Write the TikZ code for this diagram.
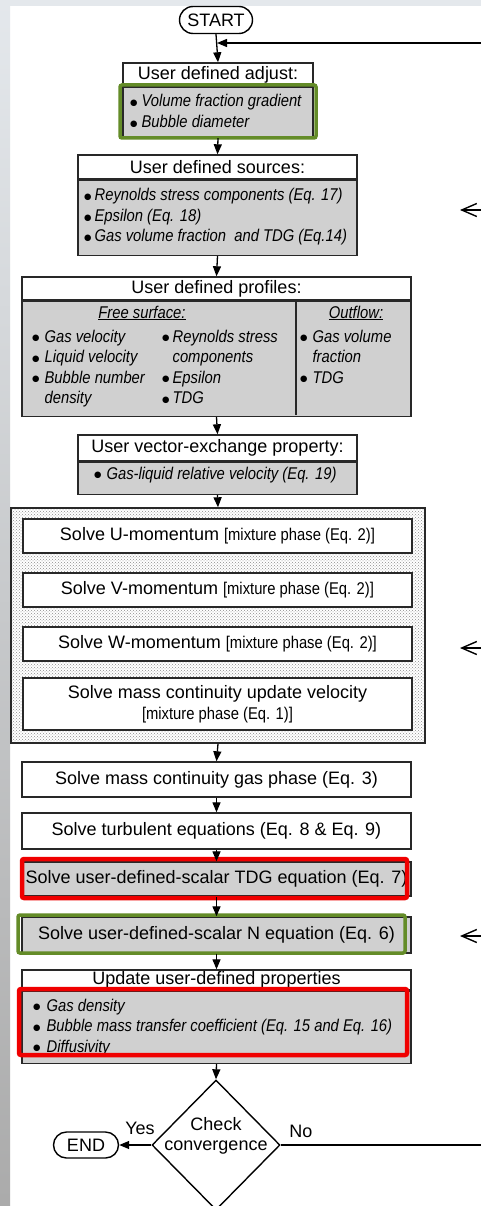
\documentclass[tikz,border=0pt]{standalone}
\usepackage{fontspec}
\setmainfont{Liberation Sans}
\newfontfamily\narrowfont[FakeStretch=0.87]{Liberation Sans}
\newfontfamily\symfont{DejaVu Sans}
\usetikzlibrary{arrows.meta,shapes.geometric,shapes.misc,patterns}

\definecolor{boxgray}{RGB}{208,208,208}
\definecolor{hlgreen}{RGB}{100,140,40}
\definecolor{hlred}{RGB}{240,0,0}
\definecolor{edgegray}{RGB}{40,40,40}
\definecolor{stripgray}{RGB}{228,232,236}
\newcommand{\bul}{\raisebox{1.2pt}{\symfont\fontsize{8.5}{8.5}\selectfont ●}}

\begin{document}
\begin{tikzpicture}[x=1pt,y=-1pt,
    every node/.style={inner sep=0pt},
    txt/.style={font=\fontsize{18}{20.5}\selectfont},
    itm/.style={font=\narrowfont\itshape\fontsize{17}{20.5}\selectfont, anchor=base west},
    titlebox/.style={draw=edgegray, line width=1.4pt, fill=white, txt},
    bodybox/.style={draw=edgegray, line width=1.4pt, fill=boxgray},
    solvebox/.style={draw=edgegray, line width=1.4pt, fill=white, minimum width=389pt, txt},
    term/.style={rounded rectangle, draw=black, line width=1.4pt, txt},
    flow/.style={line width=1.3pt, -{Triangle[length=10pt,width=8pt]}},
    hint/.style={line width=1.4pt, -{Straight Barb[length=15pt,width=13pt]}},
    greenhl/.style={draw=hlgreen, line width=3.5pt, rounded corners=2pt},
    redhl/.style={draw=hlred, line width=4.5pt, rounded corners=2pt}]
    % page and slide border
    \useasboundingbox (0,0) rectangle (481,1206);
    \fill[white] (0,0) rectangle (481,1206);
    \shade[top color=stripgray, bottom color=black!33] (0,0) rectangle (10,1206);
    \fill[stripgray] (10,0) rectangle (481,6);

    \node[term, minimum width=73pt, minimum height=27pt] (start) at (216,20) {START};

    % user defined adjust
    \node[titlebox, minimum width=190pt, minimum height=23pt] (adjT) at (218,74.5) {User defined adjust:};
    \node[bodybox, minimum width=190pt, minimum height=50pt, anchor=north] (adjB) at (adjT.south) {};
    \node[itm] (adjL) at (130,107) {\begin{tabular}[t]{@{}l@{\hspace{4pt}}l@{}}
        \bul & Volume fraction gradient\\
        \bul & Bubble diameter\end{tabular}};
    \draw[greenhl] (120,85) rectangle (316,138);

    % user defined sources
    \node[titlebox, minimum width=279pt, minimum height=24pt] (srcT) at (217.5,167) {User defined sources:};
    \node[bodybox, minimum width=279pt, minimum height=75pt, anchor=north] (srcB) at (srcT.south) {};
    \node[itm] (srcL) at (84,201) {\begin{tabular}[t]{@{}l@{\hspace{3pt}}l@{}}
        \bul & Reynolds stress components (Eq. 17)\\
        \bul & Epsilon (Eq. 18)\\
        \bul & Gas volume fraction \ and TDG (Eq.14)\end{tabular}};

    % user defined profiles
    \node[titlebox, minimum width=389pt, minimum height=23pt] (profT) at (216.5,288.5) {User defined profiles:};
    \node[bodybox, minimum width=389pt, minimum height=115pt, anchor=north] (profB) at (profT.south) {};
    \draw[edgegray, line width=1.4pt] (296,300) -- (296,415);
    \node[itm, anchor=base] (freeH) at (142,318) {\underline{Free surface:}};
    \node[itm, anchor=base] (outH) at (356,318) {\underline{Outflow:}};
    \node[itm] (profL1) at (32,342) {\begin{tabular}[t]{@{}l@{\hspace{5pt}}l@{}}
        \bul & Gas velocity\\
        \bul & Liquid velocity\\
        \bul & Bubble number\\
        & density\end{tabular}};
    \node[itm] (profL2) at (162,342) {\begin{tabular}[t]{@{}l@{\hspace{3pt}}l@{}}
        \bul & Reynolds stress\\
        & components\\
        \bul & Epsilon\\
        \bul & TDG\end{tabular}};
    \node[itm] (profL3) at (300,342) {\begin{tabular}[t]{@{}l@{\hspace{5pt}}l@{}}
        \bul & Gas volume\\
        & fraction\\
        \bul & TDG\end{tabular}};

    % user vector-exchange property
    \node[titlebox, minimum width=279pt, minimum height=26pt] (vecT) at (217.5,448) {User vector-exchange property:};
    \node[bodybox, minimum width=279pt, minimum height=32pt, anchor=north] (vecB) at (vecT.south) {};
    \node[itm] (vecL) at (94,479) {\begin{tabular}[t]{@{}l@{\hspace{5pt}}l@{}}
        \bul & Gas-liquid relative velocity (Eq. 19)\end{tabular}};

    % momentum group
    \node[draw=edgegray, line width=1.4pt, pattern=crosshatch dots, pattern color=black!45,
      minimum width=414pt, minimum height=235pt] (grp) at (218,625.5) {};
    \node[solvebox, minimum height=34pt] (solU) at (217.5,536)
      {Solve U-momentum {\narrowfont\fontsize{17}{20}\selectfont[mixture phase (Eq. 2)]}};
    \node[solvebox, minimum height=34pt] (solV) at (217.5,590)
      {Solve V-momentum {\narrowfont\fontsize{17}{20}\selectfont[mixture phase (Eq. 2)]}};
    \node[solvebox, minimum height=34pt] (solW) at (217.5,644)
      {Solve W-momentum {\narrowfont\fontsize{17}{20}\selectfont[mixture phase (Eq. 2)]}};
    \node[solvebox, minimum height=52pt, align=center] (solM) at (217.5,704)
      {Solve mass continuity update velocity\\{\narrowfont\fontsize{17}{20}\selectfont[mixture phase (Eq. 1)]}};

    \node[solvebox, minimum height=35pt] (gas) at (216.5,779.5) {Solve mass continuity gas phase (Eq. 3)};
    \node[solvebox, minimum height=36pt] (turb) at (216.5,831) {Solve turbulent equations (Eq. 8 \& Eq. 9)};
    \node[solvebox, fill=boxgray, minimum height=34pt] (tdg) at (216.5,879) {Solve user-defined-scalar TDG equation (Eq. 7)};
    \draw[redhl] (22,859) rectangle (407,898);
    \node[solvebox, fill=boxgray, minimum height=36pt] (numN) at (216.5,935) {Solve user-defined-scalar N equation (Eq. 6)};
    \draw[greenhl] (18,915) rectangle (405,953);

    % update user-defined properties
    \node[titlebox, minimum width=389pt, minimum height=20pt] (updT) at (216.5,980) {\raisebox{-3pt}{Update user-defined properties}};
    \node[bodybox, minimum width=389pt, minimum height=72pt, anchor=north] (updB) at (updT.south) {};
    \node[itm] (updL) at (33,1011) {\begin{tabular}[t]{@{}l@{\hspace{6pt}}l@{}}
        \bul & Gas density\\
        \bul & Bubble mass transfer coefficient (Eq. 15 and Eq. 16)\\
        \bul & Diffusivity\end{tabular}};
    \draw[redhl] (19,989) rectangle (407,1055);

    % convergence check
    \node[diamond, draw=black, line width=1.4pt, minimum width=128pt, minimum height=130pt] (chk) at (216,1145) {};
    \node[txt, align=center] (chkL) at (216,1136) {Check\\convergence};
    \node[term, minimum width=65pt, minimum height=26pt] (end) at (86,1145) {END};
    \node[txt] (yes) at (140,1128) {Yes};
    \node[txt] (no) at (301,1131) {No};

    % connectors
    \coordinate (join) at (217,43);
    \draw[flow] (start.south) -- (adjT.north);
    \draw[flow] (adjB.south) -- (srcT.north);
    \draw[flow] (srcB.south) -- (profT.north);
    \draw[flow] (profB.south) -- (vecT.north);
    \draw[flow] (vecB.south) -- (grp.north);
    \draw[flow] (grp.south) -- (gas.north);
    \draw[flow] (gas.south) -- (turb.north);
    \draw[flow] (turb.south) -- (tdg.north);
    \draw[flow] (tdg.south) -- (numN.north);
    \draw[flow] (numN.south) -- (updT.north);
    \draw[flow] (updB.south) -- (chk.north);
    \draw[flow] (chk.west) -- (end.east);
    \draw[flow] (chk.east) -- (500,1145) -- (500,43) -- (join);

    % pointers from the right margin
    \coordinate (h1a) at (495,210);
    \coordinate (h1b) at (460,210);
    \coordinate (h2a) at (495,648);
    \coordinate (h2b) at (460,648);
    \coordinate (h3a) at (495,936);
    \coordinate (h3b) at (460,936);
    \draw[hint] (h1a) -- (h1b);
    \draw[hint] (h2a) -- (h2b);
    \draw[hint] (h3a) -- (h3b);
\end{tikzpicture}
\end{document}
